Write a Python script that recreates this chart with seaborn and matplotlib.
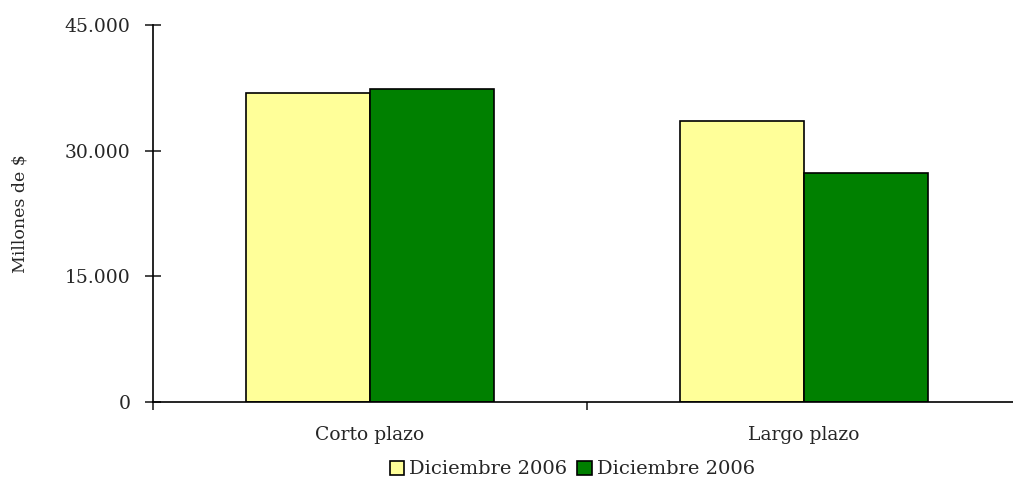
import matplotlib
matplotlib.use("Agg")
import matplotlib.pyplot as plt
import seaborn as sns
import pandas as pd
from matplotlib.ticker import FuncFormatter, FixedLocator
from matplotlib.patches import Patch

categories = ["Corto plazo", "Largo plazo"]
series_labels = ["Diciembre 2006", "Diciembre 2006"]
serie_1 = [36900, 33600]
serie_2 = [37400, 27300]
colors = ["#FFFF99", "#008000"]
y_ticks = [0, 15000, 30000, 45000]

rows = []
for s_idx, vals in enumerate([serie_1, serie_2]):
    for c, v in zip(categories, vals):
        rows.append({"cat": c, "serie": f"s{s_idx}", "valor": v})
df = pd.DataFrame(rows)

sns.set_theme(style="white")
plt.rcParams["font.family"] = ["DejaVu Serif"]

fig = plt.figure(figsize=(10.13, 4.83), dpi=100)
ax = fig.add_axes([0.151, 0.1677, 0.857, 0.7805])

sns.barplot(data=df, x="cat", y="valor", hue="serie", palette=colors,
            width=0.572, edgecolor="black", linewidth=1.2, ax=ax, legend=False,
            saturation=1)

ax.set_xlim(-0.5, 1.5)
ax.set_ylim(0, 45000)
ax.yaxis.set_major_locator(FixedLocator(y_ticks))
ax.yaxis.set_major_formatter(FuncFormatter(lambda v, p: f"{int(v):,}".replace(",", ".")))
ax.tick_params(axis="y", direction="inout", length=12, width=1.2, labelsize=13.5, pad=10, left=True)
ax.set_xticks([0, 1])
ax.set_xticklabels(categories)
ax.tick_params(axis="x", length=0, labelsize=13.5, pad=17)
ax.set_xticks([-0.5, 0.5, 1.5], minor=True)
ax.tick_params(axis="x", which="minor", direction="out", length=6, width=1.2, bottom=True)
ax.set_xlabel("")
ax.set_ylabel("Millones de $", fontsize=12.5, labelpad=26)

for side in ["top", "right"]:
    ax.spines[side].set_visible(False)
for side in ["left", "bottom"]:
    ax.spines[side].set_color("black")
    ax.spines[side].set_linewidth(1.2)

handles = [Patch(facecolor=c, edgecolor="black", linewidth=1.2) for c in colors]
fig.legend(handles, series_labels, loc="center", bbox_to_anchor=(0.565, 0.028), ncol=2,
           frameon=False, fontsize=14, handlelength=0.75, handleheight=0.75,
           handletextpad=0.25, columnspacing=0.5, borderpad=0.1)

fig.savefig("out.png", dpi=100)
